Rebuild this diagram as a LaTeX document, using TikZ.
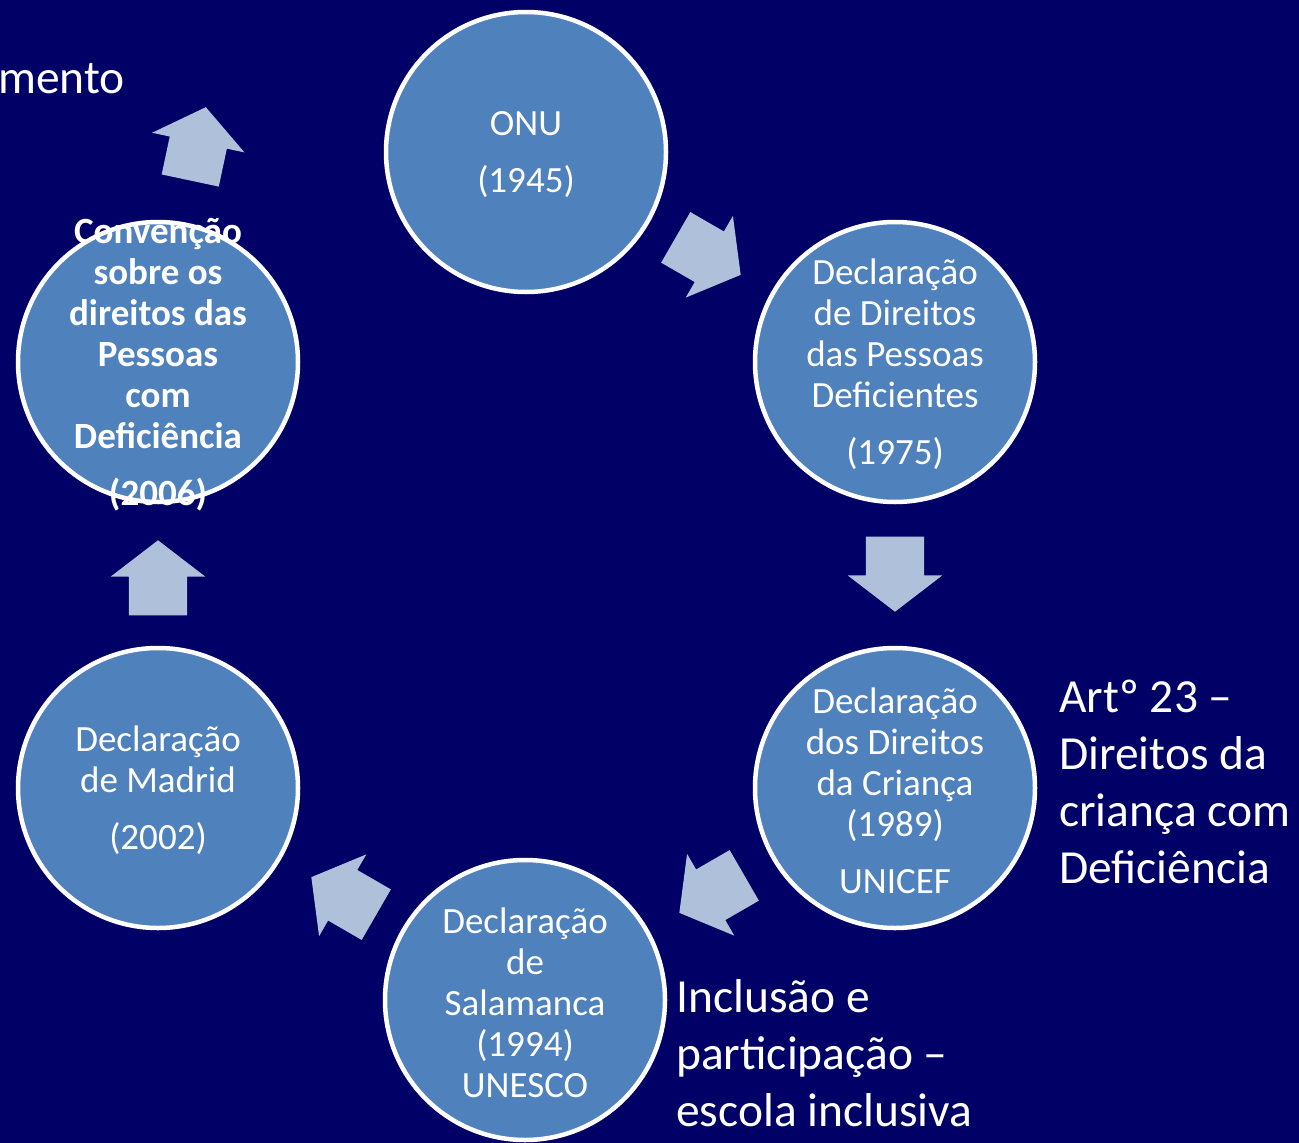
\documentclass[tikz,border=0pt]{standalone}
\usepackage{fontspec}
\setmainfont{Carlito}
\usetikzlibrary{shapes.arrows}

\definecolor{navybg}{RGB}{0,0,102}
\definecolor{bubblefill}{RGB}{79,129,189}
\definecolor{arrowfill}{RGB}{175,192,218}

\tikzset{
  bubble/.style={circle, fill=bubblefill, draw=white, line width=4.5pt, minimum size=280pt, inner sep=0pt},
  bubbletext/.style={text=white, align=center, inner sep=0pt, yshift=-2.5pt, font=\fontsize{37}{41}\selectfont},
  blockarrow/.style={single arrow, fill=arrowfill, draw=none, inner xsep=0pt, inner ysep=29pt,
    minimum height=75pt, single arrow head extend=18pt, single arrow tip angle=105},
  sidetext/.style={text=white, align=left, inner sep=0pt, anchor=west, font=\fontsize{47.5}{57}\selectfont}
}

\begin{document}
\begin{tikzpicture}[x=1pt, y=-1pt]
      \fill[navybg] (0, 0) rectangle (1299, 1143);
      \useasboundingbox (0, 0) rectangle (1299, 1143);

      \node[bubble] (onu) at (526, 152) {};
      \node[bubble] (pessoas) at (895, 362) {};
      \node[bubble] (crianca) at (895, 788) {};
      \node[bubble] (salamanca) at (525, 1000) {};
      \node[bubble] (madrid) at (158, 788) {};
      \node[bubble] (convencao) at (158, 362) {};

      \node[bubbletext] at (onu) {ONU\\[16pt](1945)};
      \node[bubbletext] at (pessoas) {Declaração\\de Direitos\\das Pessoas\\Deficientes\\[16pt](1975)};
      \node[bubbletext] at (crianca) {Declaração\\dos Direitos\\da Criança\\(1989)\\[16pt]UNICEF};
      \node[bubbletext] at (salamanca) {Declaração\\de\\Salamanca\\(1994)\\UNESCO};
      \node[bubbletext] at (madrid) {Declaração\\de Madrid\\[16pt](2002)};
      \node[bubbletext, font=\fontsize{37}{41}\selectfont\bfseries] at (convencao)
        {Convenção\\sobre os\\direitos das\\Pessoas\\com\\Deficiência\\[16pt](2006)};

      \node[blockarrow, rotate=-30] (onu-pessoas) at (698.5, 250.5) {};
      \node[blockarrow, rotate=-90] (pessoas-crianca) at (895, 563) {};
      \node[blockarrow, rotate=-150] (crianca-salamanca) at (721.5, 888.5) {};
      \node[blockarrow, rotate=150] (salamanca-madrid) at (353.5, 901.5) {};
      \node[blockarrow, rotate=90] (madrid-convencao) at (158, 589) {};
      \node[blockarrow, rotate=78] (convencao-out) at (195.7, 154.8) {};

      \node[sidetext] (artigo) at (1059, 782) {Artº 23 –\\Direitos da\\criança com\\Deficiência};
      \node[sidetext] (inclusao) at (676, 1053) {Inclusão e\\participação –\\escola inclusiva};
      \node[sidetext, anchor=base west] (mento) at (-2, 93) {mento};

\end{tikzpicture}
\end{document}
